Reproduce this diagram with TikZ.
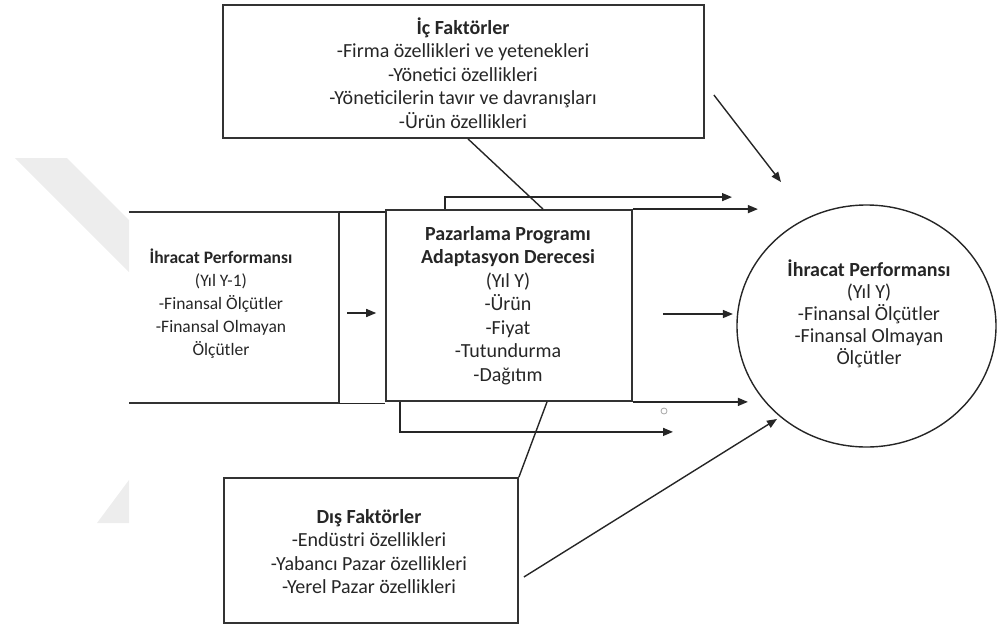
\documentclass[tikz,border=0pt]{standalone}
\usepackage{fontspec}
\setmainfont{Carlito}
\usetikzlibrary{arrows.meta,shapes.geometric,calc}
\begin{document}
\begin{tikzpicture}[x=1pt,y=-1pt,
  frame/.style={draw=black!80, line width=1.8pt, inner sep=0pt},
  txt/.style={align=center, font=\fontsize{20}{23.5}\selectfont, text=black!85, inner sep=0pt},
  conn/.style={draw=black!85, line width=1.4pt},
  arr/.style={conn, -{Triangle[length=10pt,width=8pt]}},
]
\useasboundingbox (0,0) rectangle (997,630);

% light watermark chevron at the left margin
\fill[black!7] (15,158) -- (67,158) -- (129,220) -- (129,272) -- cycle;
\fill[black!7] (97,523) -- (129,523) -- (129,480) -- cycle;

% internal factors
\node[frame, minimum width=481pt, minimum height=133pt] (ic) at (463.5,71.5) {};
\node[txt] (ictxt) at (463,73) {\textbf{İç Faktörler}\\-Firma özellikleri ve yetenekleri\\-Yönetici özellikleri\\-Yöneticilerin tavır ve davranışları\\-Ürün özellikleri};

% export performance, previous year (open on the left)
\node[minimum width=210pt, minimum height=191pt, inner sep=0pt] (past) at (234,307.5) {};
\draw[frame] (past.north west) -- (past.north east) -- (past.south east) -- (past.south west);
\node[txt, font=\fontsize{17.5}{23}\selectfont] (pasttxt) at (221,304) {\textbf{İhracat Performansı}\\(Yıl Y-1)\\-Finansal Ölçütler\\-Finansal Olmayan\\Ölçütler};

% marketing programme adaptation
\node[frame, minimum width=246pt, minimum height=191pt] (pp) at (509,305.5) {};
\node[txt] (pptxt) at (508,305.5) {\textbf{Pazarlama Programı}\\\textbf{Adaptasyon Derecesi}\\(Yıl Y)\\-Ürün\\-Fiyat\\-Tutundurma\\-Dağıtım};

% export performance, current year
\node[ellipse, draw=black!85, line width=1.4pt, minimum width=259pt, minimum height=242pt, inner sep=0pt] (now) at (866.5,326) {};
\node[txt, font=\fontsize{20}{22}\selectfont] (nowtxt) at (869,314) {\textbf{İhracat Performansı}\\(Yıl Y)\\-Finansal Ölçütler\\-Finansal Olmayan\\Ölçütler};

% external factors
\node[frame, minimum width=294pt, minimum height=145pt] (dis) at (371,550.5) {};
\node[txt] (distxt) at (369,551.5) {\textbf{Dış Faktörler}\\-Endüstri özellikleri\\-Yabancı Pazar özellikleri\\-Yerel Pazar özellikleri};

% stray small circle
\node[circle, draw=black!35, line width=0.8pt, minimum size=6pt, inner sep=0pt] (dot) at (664,411) {};

% free arrow ends
\coordinate (icTip) at (781,182);
\coordinate (disTip) at (777,419);

% links between the left box and the programme box
\draw[conn] (past.north east) -- (past.north east -| pp.west);
\draw[conn] (past.south east) -- (past.south east -| pp.west);
\draw[arr] ([xshift=8pt,yshift=-5.5pt]past.east) -- ++(29,0);

% factor lines
\draw[conn] ([xshift=4.5pt]ic.south) -- ([xshift=34pt]pp.north);
\draw[conn] (dis.north east) -- ([xshift=38pt]pp.south);
\draw[arr] ([xshift=9pt,yshift=-23.5pt]ic.east) -- (icTip);
\draw[arr] ([xshift=5pt,yshift=-26.5pt]dis.east) -- (disTip);

% arrows towards current performance
\draw[arr] ([xshift=-64pt]pp.north) -- ++(0,-12) -- ++(287,0);
\draw[arr] (pp.north east) -- ++(125,0);
\draw[arr] ([xshift=30pt,yshift=-8.5pt]pp.east) -- ++(70,0);
\draw[arr] (pp.south east) -- ++(115,0);
\draw[arr] ([xshift=-109pt]pp.south) -- ++(0,30) -- ++(273,0);
\end{tikzpicture}
\end{document}
